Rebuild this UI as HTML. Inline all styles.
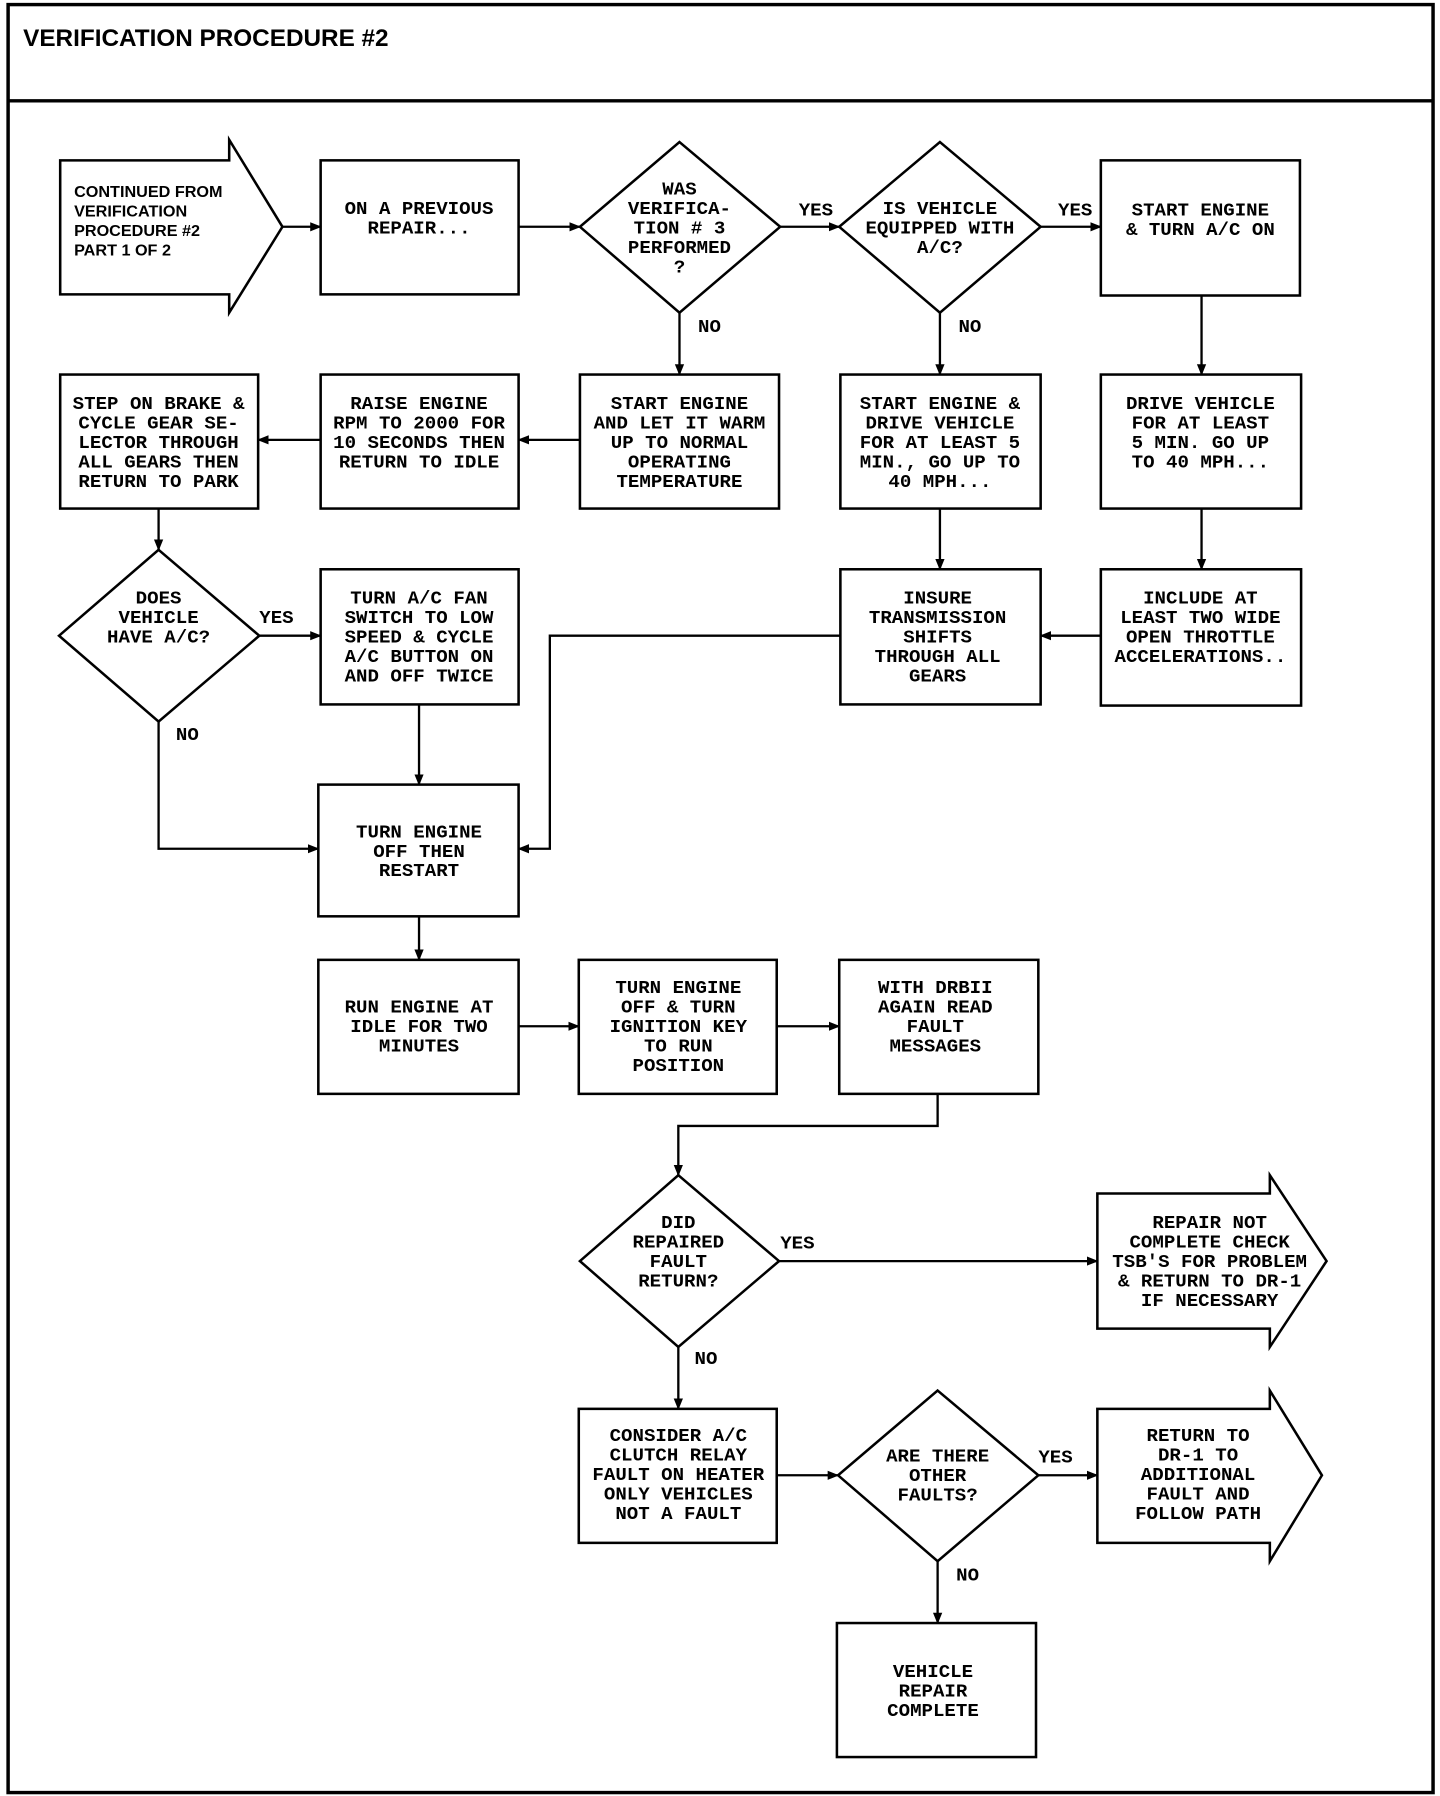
<!DOCTYPE html>
<html><head><meta charset="utf-8"><style>
html,body{margin:0;padding:0;background:#fff}
svg{display:block}
text{font-family:"Liberation Mono",monospace;font-weight:bold;font-size:16.5px;fill:#000}
.t{font-family:"Liberation Sans",sans-serif;font-weight:bold;font-size:21px}
.s{font-family:"Liberation Sans",sans-serif;font-weight:bold;font-size:14px}
.m{text-anchor:middle}
</style></head><body>
<svg width="1440" height="1796" viewBox="0 0 1244 1568" preserveAspectRatio="none" xmlns="http://www.w3.org/2000/svg">
<defs><marker id="a" markerWidth="10" markerHeight="10" refX="9" refY="5" orient="auto" markerUnits="userSpaceOnUse"><path d="M0,1 L10,5 L0,9 z" fill="#000"/></marker></defs>
<rect x="0" y="0" width="1244" height="1568" fill="#fff"/>
<rect x="7" y="4" width="1231" height="1561" fill="none" stroke="#000" stroke-width="3"/>
<line x1="7" y1="88" x2="1238" y2="88" stroke="#000" stroke-width="3"/>
<text class="t" x="20" y="40">VERIFICATION PROCEDURE #2</text>
<g fill="none" stroke="#000" stroke-width="2.2">
<polygon points="52,140 198,140 198,122 244,198 198,273 198,257 52,257"/>
<rect x="277" y="140" width="171" height="117"/>
<polygon points="587,124 674,198 587,273 501,198"/>
<polygon points="812,124 899,198 812,273 725,198"/>
<rect x="951" y="140" width="172" height="118"/>
<rect x="52" y="327" width="171" height="117"/>
<rect x="277" y="327" width="171" height="117"/>
<rect x="501" y="327" width="172" height="117"/>
<rect x="726" y="327" width="173" height="117"/>
<rect x="951" y="327" width="173" height="117"/>
<polygon points="137,480 224,555 137,630 51,555"/>
<rect x="277" y="497" width="171" height="118"/>
<rect x="726" y="497" width="173" height="118"/>
<rect x="951" y="497" width="173" height="119"/>
<rect x="275" y="685" width="173" height="115"/>
<rect x="275" y="838" width="173" height="117"/>
<rect x="500" y="838" width="171" height="117"/>
<rect x="725" y="838" width="172" height="117"/>
<polygon points="586,1026 673,1101 586,1176 501,1101"/>
<polygon points="948,1042 1097,1042 1097,1026 1146,1101 1097,1176 1097,1160 948,1160"/>
<rect x="500" y="1230" width="171" height="117"/>
<polygon points="810,1214 897,1288 810,1363 724,1288"/>
<polygon points="948,1230 1097,1230 1097,1214 1142,1288 1097,1363 1097,1347 948,1347"/>
<rect x="723" y="1417" width="172" height="117"/>
</g>
<g fill="none" stroke="#000" stroke-width="2" marker-end="url(#a)">
<line x1="244" y1="198" x2="277" y2="198"/>
<line x1="448" y1="198" x2="501" y2="198"/>
<line x1="674" y1="198" x2="725" y2="198"/>
<line x1="899" y1="198" x2="951" y2="198"/>
<line x1="587" y1="273" x2="587" y2="327"/>
<line x1="812" y1="273" x2="812" y2="327"/>
<line x1="1038" y1="258" x2="1038" y2="327"/>
<line x1="501" y1="384" x2="448" y2="384"/>
<line x1="277" y1="384" x2="223" y2="384"/>
<line x1="812" y1="444" x2="812" y2="497"/>
<line x1="1038" y1="444" x2="1038" y2="497"/>
<line x1="137" y1="444" x2="137" y2="480"/>
<line x1="224" y1="555" x2="277" y2="555"/>
<line x1="951" y1="555" x2="899" y2="555"/>
<polyline points="726,555 475,555 475,741 448,741"/>
<line x1="362" y1="615" x2="362" y2="685"/>
<polyline points="137,630 137,741 275,741"/>
<line x1="362" y1="800" x2="362" y2="838"/>
<line x1="448" y1="896" x2="500" y2="896"/>
<line x1="671" y1="896" x2="725" y2="896"/>
<polyline points="810,955 810,983 586,983 586,1026"/>
<line x1="673" y1="1101" x2="948" y2="1101"/>
<line x1="586" y1="1176" x2="586" y2="1230"/>
<line x1="671" y1="1288" x2="724" y2="1288"/>
<line x1="897" y1="1288" x2="948" y2="1288"/>
<line x1="810" y1="1363" x2="810" y2="1417"/>
</g>
<g class="s">
<text class="s" x="64" y="172">CONTINUED FROM</text>
<text class="s" x="64" y="189">VERIFICATION</text>
<text class="s" x="64" y="206">PROCEDURE #2</text>
<text class="s" x="64" y="223">PART 1 OF 2</text>
</g>
<text x="690" y="188">YES</text><text x="914" y="188">YES</text>
<text x="603" y="290">NO</text><text x="828" y="290">NO</text>
<text x="224" y="544">YES</text><text x="152" y="646">NO</text>
<text x="674" y="1090">YES</text><text x="600" y="1191">NO</text>
<text x="897" y="1277">YES</text><text x="826" y="1380">NO</text>
<g class="m">
<text class="m" x="362" y="187">ON A PREVIOUS</text><text class="m" x="362" y="204">REPAIR...</text>
<text class="m" x="587" y="170">WAS</text><text class="m" x="587" y="187">VERIFICA-</text><text class="m" x="587" y="204">TION # 3</text><text class="m" x="587" y="221">PERFORMED</text><text class="m" x="587" y="238">?</text>
<text class="m" x="812" y="187">IS VEHICLE</text><text class="m" x="812" y="204">EQUIPPED WITH</text><text class="m" x="812" y="221">A/C?</text>
<text class="m" x="1037" y="188">START ENGINE</text><text class="m" x="1037" y="205">&amp; TURN A/C ON</text>
<text class="m" x="137" y="357">STEP ON BRAKE &amp;</text><text class="m" x="137" y="374">CYCLE GEAR SE-</text><text class="m" x="137" y="391">LECTOR THROUGH</text><text class="m" x="137" y="408">ALL GEARS THEN</text><text class="m" x="137" y="425">RETURN TO PARK</text>
<text class="m" x="362" y="357">RAISE ENGINE</text><text class="m" x="362" y="374">RPM TO 2000 FOR</text><text class="m" x="362" y="391">10 SECONDS THEN</text><text class="m" x="362" y="408">RETURN TO IDLE</text>
<text class="m" x="587" y="357">START ENGINE</text><text class="m" x="587" y="374">AND LET IT WARM</text><text class="m" x="587" y="391">UP TO NORMAL</text><text class="m" x="587" y="408">OPERATING</text><text class="m" x="587" y="425">TEMPERATURE</text>
<text class="m" x="812" y="357">START ENGINE &amp;</text><text class="m" x="812" y="374">DRIVE VEHICLE</text><text class="m" x="812" y="391">FOR AT LEAST 5</text><text class="m" x="812" y="408">MIN., GO UP TO</text><text class="m" x="812" y="425">40 MPH...</text>
<text class="m" x="1037" y="357">DRIVE VEHICLE</text><text class="m" x="1037" y="374">FOR AT LEAST</text><text class="m" x="1037" y="391">5 MIN. GO UP</text><text class="m" x="1037" y="408">TO 40 MPH...</text>
<text class="m" x="137" y="527">DOES</text><text class="m" x="137" y="544">VEHICLE</text><text class="m" x="137" y="561">HAVE A/C?</text>
<text class="m" x="362" y="527">TURN A/C FAN</text><text class="m" x="362" y="544">SWITCH TO LOW</text><text class="m" x="362" y="561">SPEED &amp; CYCLE</text><text class="m" x="362" y="578">A/C BUTTON ON</text><text class="m" x="362" y="595">AND OFF TWICE</text>
<text class="m" x="810" y="527">INSURE</text><text class="m" x="810" y="544">TRANSMISSION</text><text class="m" x="810" y="561">SHIFTS</text><text class="m" x="810" y="578">THROUGH ALL</text><text class="m" x="810" y="595">GEARS</text>
<text class="m" x="1037" y="527">INCLUDE AT</text><text class="m" x="1037" y="544">LEAST TWO WIDE</text><text class="m" x="1037" y="561">OPEN THROTTLE</text><text class="m" x="1037" y="578">ACCELERATIONS..</text>
<text class="m" x="362" y="731">TURN ENGINE</text><text class="m" x="362" y="748">OFF THEN</text><text class="m" x="362" y="765">RESTART</text>
<text class="m" x="362" y="884">RUN ENGINE AT</text><text class="m" x="362" y="901">IDLE FOR TWO</text><text class="m" x="362" y="918">MINUTES</text>
<text class="m" x="586" y="867">TURN ENGINE</text><text class="m" x="586" y="884">OFF &amp; TURN</text><text class="m" x="586" y="901">IGNITION KEY</text><text class="m" x="586" y="918">TO RUN</text><text class="m" x="586" y="935">POSITION</text>
<text class="m" x="808" y="867">WITH DRBII</text><text class="m" x="808" y="884">AGAIN READ</text><text class="m" x="808" y="901">FAULT</text><text class="m" x="808" y="918">MESSAGES</text>
<text class="m" x="586" y="1072">DID</text><text class="m" x="586" y="1089">REPAIRED</text><text class="m" x="586" y="1106">FAULT</text><text class="m" x="586" y="1123">RETURN?</text>
<text class="m" x="1045" y="1072">REPAIR NOT</text><text class="m" x="1045" y="1089">COMPLETE CHECK</text><text class="m" x="1045" y="1106">TSB'S FOR PROBLEM</text><text class="m" x="1045" y="1123">&amp; RETURN TO DR-1</text><text class="m" x="1045" y="1140">IF NECESSARY</text>
<text class="m" x="586" y="1258">CONSIDER A/C</text><text class="m" x="586" y="1275">CLUTCH RELAY</text><text class="m" x="586" y="1292">FAULT ON HEATER</text><text class="m" x="586" y="1309">ONLY VEHICLES</text><text class="m" x="586" y="1326">NOT A FAULT</text>
<text class="m" x="810" y="1276">ARE THERE</text><text class="m" x="810" y="1293">OTHER</text><text class="m" x="810" y="1310">FAULTS?</text>
<text class="m" x="1035" y="1258">RETURN TO</text><text class="m" x="1035" y="1275">DR-1 TO</text><text class="m" x="1035" y="1292">ADDITIONAL</text><text class="m" x="1035" y="1309">FAULT AND</text><text class="m" x="1035" y="1326">FOLLOW PATH</text>
<text class="m" x="806" y="1464">VEHICLE</text><text class="m" x="806" y="1481">REPAIR</text><text class="m" x="806" y="1498">COMPLETE</text>
</g>
</svg>
</body></html>
